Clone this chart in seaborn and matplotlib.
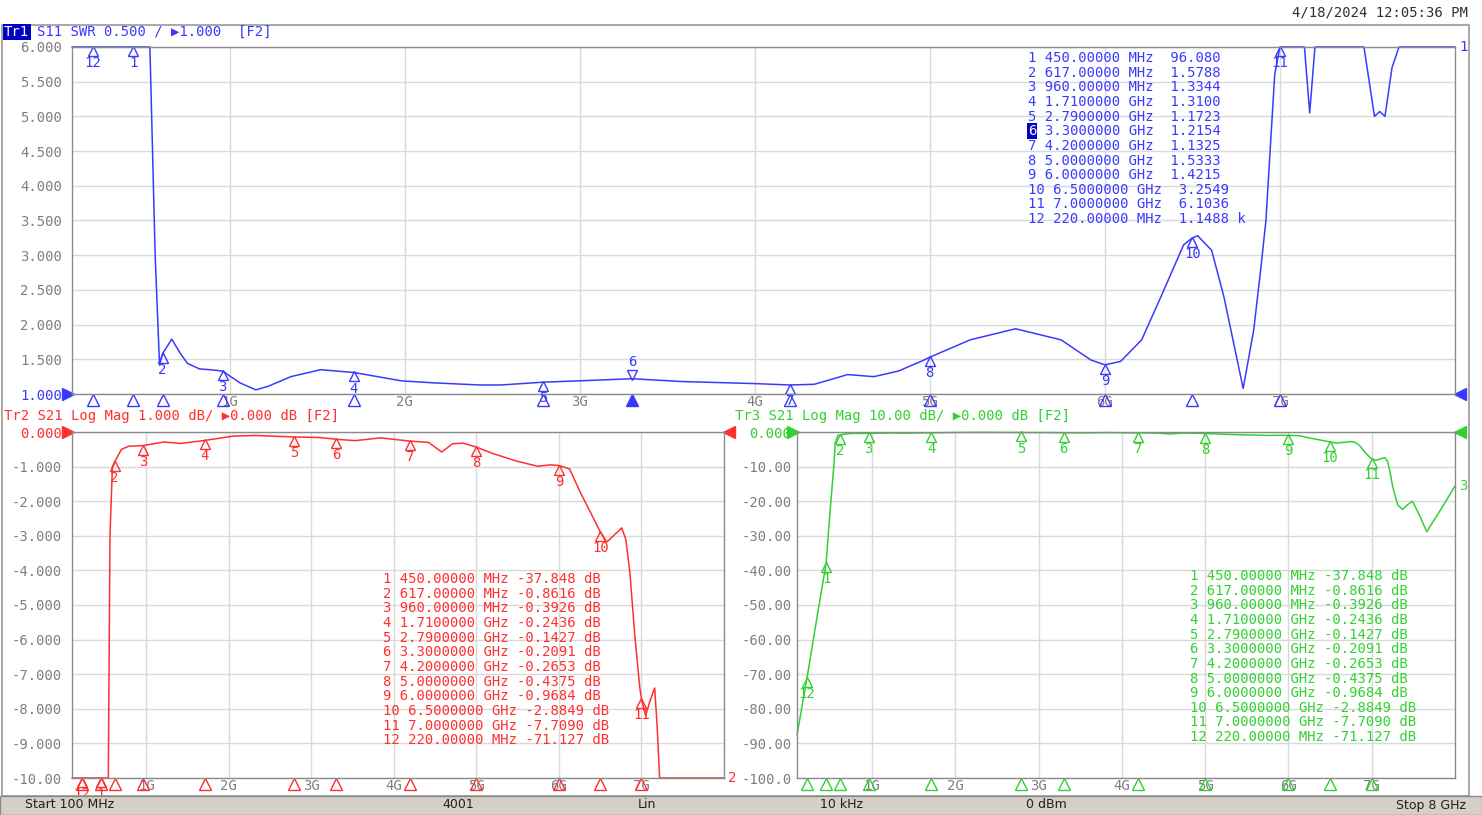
import numpy as np
import matplotlib
matplotlib.use("Agg")
import matplotlib.pyplot as plt
import matplotlib.transforms as mtransforms
from matplotlib.patches import Rectangle
import seaborn as sns

# S11 SWR trace (GHz, SWR); values above 6 are off-scale
swr_freq = [0.10, 0.22, 0.45, 0.53, 0.545, 0.575, 0.600, 0.617, 0.67, 0.72, 0.76, 0.83,
            0.89, 0.96, 1.06, 1.15, 1.22, 1.35, 1.52, 1.71, 1.98, 2.17, 2.43, 2.55,
            2.79, 3.00, 3.30, 3.58, 4.00, 4.20, 4.34, 4.45, 4.53, 4.68, 4.82, 4.95,
            5.00, 5.23, 5.49, 5.75, 5.92, 6.00, 6.09, 6.21, 6.32, 6.45, 6.50, 6.53,
            6.61, 6.68, 6.74, 6.79, 6.85, 6.89, 6.92, 6.97, 7.00, 7.08, 7.14, 7.17,
            7.20, 7.25, 7.40, 7.48, 7.54, 7.57, 7.60, 7.64, 7.68, 7.80, 8.00]
swr_vals = [2500, 1148.8, 96.08, 12.0, 6.5, 3.0, 1.42, 1.58, 1.79, 1.58, 1.44, 1.36,
            1.35, 1.33, 1.16, 1.06, 1.11, 1.25, 1.35, 1.31, 1.19, 1.16, 1.13, 1.13,
            1.17, 1.19, 1.22, 1.18, 1.15, 1.13, 1.14, 1.22, 1.28, 1.25, 1.33, 1.47,
            1.53, 1.78, 1.94, 1.78, 1.49, 1.42, 1.47, 1.78, 2.40, 3.15, 3.25, 3.28,
            3.07, 2.40, 1.68, 1.08, 1.92, 2.79, 3.50, 5.60, 6.10, 7.50, 6.20, 5.05,
            6.30, 8.00, 9.00, 6.30, 5.00, 5.07, 5.00, 5.70, 6.40, 8.00, 9.00]

# S21 trace (GHz, dB) - the same measurement is shown in both lower panes
s21_freq = [0.10, 0.22, 0.33, 0.45, 0.50, 0.54, 0.56, 0.59, 0.617, 0.70, 0.79, 0.96,
            1.21, 1.42, 1.71, 2.05, 2.32, 2.79, 3.10, 3.30, 3.53, 3.84, 4.20, 4.42,
            4.58, 4.71, 4.84, 5.00, 5.21, 5.47, 5.74, 5.90, 6.00, 6.13, 6.26, 6.42,
            6.50, 6.58, 6.66, 6.76, 6.81, 6.86, 6.92, 6.98, 7.00, 7.05, 7.10, 7.16,
            7.19, 7.22, 7.25, 7.31, 7.37, 7.43, 7.49, 7.58, 7.66, 7.83, 8.00]
s21_vals = [-87.6, -71.127, -55.0, -37.848, -22.0, -10.5, -3.0, -1.0, -0.8616, -0.50, -0.41, -0.3926,
            -0.29, -0.33, -0.2436, -0.12, -0.10, -0.1427, -0.16, -0.2091, -0.25, -0.17, -0.2653, -0.30,
            -0.58, -0.34, -0.32, -0.4375, -0.63, -0.83, -0.99, -0.95, -0.9684, -1.07, -1.75, -2.50,
            -2.8849, -3.18, -3.00, -2.77, -3.10, -4.07, -5.90, -7.40, -7.709, -8.20, -7.80, -7.40,
            -8.50, -11.5, -15.6, -21.0, -22.4, -21.0, -20.0, -24.4, -28.8, -22.4, -15.6]

marker_ids = [1, 2, 3, 4, 5, 6, 7, 8, 9, 10, 11, 12]
marker_freq = [0.45, 0.617, 0.96, 1.71, 2.79, 3.3, 4.2, 5.0, 6.0, 6.5, 7.0, 0.22]
marker_freq_txt = ["450.00000 MHz", "617.00000 MHz", "960.00000 MHz", "1.7100000 GHz",
                   "2.7900000 GHz", "3.3000000 GHz", "4.2000000 GHz", "5.0000000 GHz",
                   "6.0000000 GHz", "6.5000000 GHz", "7.0000000 GHz", "220.00000 MHz"]
marker_swr = [96.080, 1.5788, 1.3344, 1.3100, 1.1723, 1.2154, 1.1325, 1.5333, 1.4215,
              3.2549, 6.1036, 1148.8]
marker_swr_txt = ["96.080", "1.5788", "1.3344", "1.3100", "1.1723", "1.2154", "1.1325",
                  "1.5333", "1.4215", "3.2549", "6.1036", "1.1488 k"]
marker_s21 = [-37.848, -0.8616, -0.3926, -0.2436, -0.1427, -0.2091, -0.2653, -0.4375,
              -0.9684, -2.8849, -7.7090, -71.127]
marker_s21_txt = ["-37.848", "-0.8616", "-0.3926", "-0.2436", "-0.1427", "-0.2091",
                  "-0.2653", "-0.4375", "-0.9684", "-2.8849", "-7.7090", "-71.127"]

grid_ghz = [1, 2, 3, 4, 5, 6, 7]
grid_labels = ["1G", "2G", "3G", "4G", "5G", "6G", "7G"]
swr_ticks = ["1.000", "1.500", "2.000", "2.500", "3.000", "3.500",
             "4.000", "4.500", "5.000", "5.500", "6.000"]
red_ticks = ["-10.00", "-9.000", "-8.000", "-7.000", "-6.000", "-5.000",
             "-4.000", "-3.000", "-2.000", "-1.000", "0.000"]
green_ticks = ["-100.0", "-90.00", "-80.00", "-70.00", "-60.00", "-50.00",
               "-40.00", "-30.00", "-20.00", "-10.00", "0.000"]

BLUE = '#3a3aff'
RED = '#ff2f2f'
GREEN = '#33d033'
GRAY = '#7f7f7f'
W, H = 1482, 815
CHAR = 8.36  # width of one DejaVu Sans Mono glyph at 10 pt, in pixels

sns.set_style("white")
plt.rcParams['font.family'] = ['DejaVu Sans Mono', 'DejaVu Sans']

fig = plt.figure(figsize=(W / 100, H / 100), dpi=100)


def box(l, t, r, b):
    return fig.add_axes([l / W, 1 - b / H, (r - l) / W, (b - t) / H])


def ftext(x, y, s, **kw):
    return fig.text(x / W, 1 - y / H, s, **kw)


def setup(ax, lo, hi, labels, ref, color, pad):
    ax.set_xlim(0.1, 8.0)
    ax.set_ylim(lo, hi)
    ax.set_xticks(grid_ghz)
    ax.set_xticklabels(grid_labels)
    ticks = np.linspace(lo, hi, len(labels))
    ax.set_yticks(ticks)
    ax.set_yticklabels(labels)
    ax.grid(True, color='#d9d9d9', lw=1)
    ax.tick_params(length=0, labelsize=10, labelcolor=GRAY)
    ax.tick_params(axis='x', pad=0.5)
    ax.tick_params(axis='y', pad=pad)
    for sp in ax.spines.values():
        sp.set_color('#8a8a8a')
        sp.set_linewidth(1)
    for lab, t in zip(ax.get_yticklabels(), ticks):
        if np.isclose(t, ref):
            lab.set_color(color)
    # reference level arrows on both sides
    tr = mtransforms.blended_transform_factory(ax.transAxes, ax.transData)
    ax.plot([0], [ref], marker='>', ms=9, color=color, clip_on=False,
            transform=mtransforms.offset_copy(tr, fig=fig, x=-4, units='dots'))
    ax.plot([1], [ref], marker='<', ms=9, color=color, clip_on=False,
            transform=mtransforms.offset_copy(tr, fig=fig, x=5, units='dots'))


def trace(ax, freq, vals, lo, hi, color, name):
    y = np.clip(np.asarray(vals, float), lo, hi)
    sns.lineplot(x=freq, y=y, ax=ax, color=color, lw=1.1, estimator=None, sort=False)
    ax.lines[-1].set_clip_on(False)
    ax.set_xlabel('')
    ax.set_ylabel('')
    ax.annotate(name, (freq[-1], y[-1]), xytext=(3, 0), textcoords='offset points',
                ha='left', va='center', color=color, fontsize=10, annotation_clip=False)


def markers(ax, vals, lo, hi, color, active=None):
    up = mtransforms.offset_copy(ax.transData, fig=fig, y=-4, units='dots')
    down = mtransforms.offset_copy(ax.transData, fig=fig, y=4, units='dots')
    for n, f, v in zip(marker_ids, marker_freq, vals):
        y = min(max(v, lo), hi)
        if n == active:
            ax.plot(f, y, marker='v', ms=7, mfc='none', mec=color, mew=1, transform=down, clip_on=False)
            ax.annotate(str(n), (f, y), xytext=(0, 7), textcoords='offset points', ha='center',
                        va='bottom', color=color, fontsize=10, annotation_clip=False)
        else:
            ax.plot(f, y, marker='^', ms=7, mfc='none', mec=color, mew=1, transform=up, clip_on=False)
            ax.annotate(str(n), (f, y), xytext=(0, -6.5), textcoords='offset points', ha='center',
                        va='top', color=color, fontsize=10, annotation_clip=False)
    row = mtransforms.offset_copy(mtransforms.blended_transform_factory(ax.transData, ax.transAxes),
                                  fig=fig, y=-6, units='dots')
    for n, f in zip(marker_ids, marker_freq):
        ax.plot(f, 0, marker='^', ms=8, mfc=color if n == active else 'none', mec=color, mew=1,
                transform=row, clip_on=False)


def table(x, y, vals_txt, sep, suffix, color, active=None):
    for i, (n, ft, vt) in enumerate(zip(marker_ids, marker_freq_txt, vals_txt)):
        yy = y + i * 14.65
        num = str(n)
        rest = f"{ft}{sep}{vt}{suffix}"
        if n == active:
            ftext(x, yy, num, color='white', fontsize=10, va='center',
                  bbox=dict(boxstyle='square,pad=0.08', fc='#0000c0', ec='none'))
            ftext(x + (len(num) + 1) * CHAR, yy, rest, color=color, fontsize=10, va='center')
        else:
            ftext(x, yy, f"{num} {rest}", color=color, fontsize=10, va='center')


# window frame and status bar
fig.add_artist(Rectangle((2 / W, 1 - 796 / H), 1467 / W, 771 / H, transform=fig.transFigure,
                         fill=False, ec='#9a9a9a', lw=1.2))
fig.add_artist(Rectangle((0, 0), 1, 19 / H, transform=fig.transFigure, fc='#d4d0c8',
                         ec='#8a8a8a', lw=1))
ftext(1468, 12, "4/18/2024 12:05:36 PM", ha='right', va='center', fontsize=10, color='#303030')

# top pane: S11 SWR
ax1 = box(72, 47, 1455, 394)
setup(ax1, 1.0, 6.0, swr_ticks, 1.0, BLUE, 7)
trace(ax1, swr_freq, swr_vals, 1.0, 6.0, BLUE, "1")
markers(ax1, marker_swr, 1.0, 6.0, BLUE, active=6)
table(1028, 58, marker_swr_txt, "  ", "", BLUE, active=6)
ftext(4, 32, "Tr1", color='white', fontsize=10, va='center',
      bbox=dict(boxstyle='square,pad=0.1', fc='#0000c0', ec='none'))
ftext(4 + 4 * CHAR, 32, "S11 SWR 0.500 / \u25b61.000  [F2]", color=BLUE, fontsize=10, va='center')

# lower left: S21 log mag, 1 dB/div
ax2 = box(72, 432, 724, 778)
setup(ax2, -10.0, 0.0, red_ticks, 0.0, RED, 7)
trace(ax2, s21_freq, s21_vals, -10.0, 0.0, RED, "2")
markers(ax2, marker_s21, -10.0, 0.0, RED)
table(383, 579, marker_s21_txt, " ", " dB", RED)
ftext(4, 416, "Tr2 S21 Log Mag 1.000 dB/ \u25b60.000 dB [F2]", color=RED, fontsize=10, va='center')

# lower right: S21 log mag, 10 dB/div
ax3 = box(797, 432, 1455, 778)
setup(ax3, -100.0, 0.0, green_ticks, 0.0, GREEN, 4)
trace(ax3, s21_freq, s21_vals, -100.0, 0.0, GREEN, "3")
markers(ax3, marker_s21, -100.0, 0.0, GREEN)
table(1190, 576, marker_s21_txt, " ", " dB", GREEN)
ftext(735, 416, "Tr3 S21 Log Mag 10.00 dB/ \u25b60.000 dB [F2]", color=GREEN, fontsize=10, va='center')

# status bar
status_kw = dict(fontsize=9, va='center', color='#202020', family='DejaVu Sans')
ftext(25, 805, "Start 100 MHz", ha='left', **status_kw)
ftext(458, 805, "4001", ha='center', **status_kw)
ftext(647, 805, "Lin", ha='center', **status_kw)
ftext(842, 805, "10 kHz", ha='center', **status_kw)
ftext(1046, 805, "0 dBm", ha='center', **status_kw)
ftext(1466, 805, "Stop 8 GHz", ha='right', **status_kw)

fig.savefig("out.png", dpi=100)
